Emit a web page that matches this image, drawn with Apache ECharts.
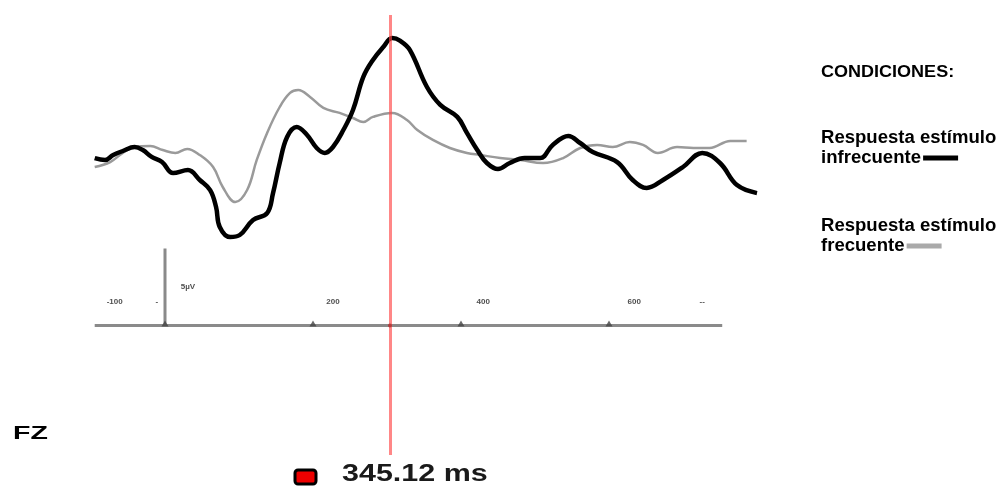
<!DOCTYPE html>
<html>
<head>
<meta charset="utf-8">
<script src="https://cdn.jsdelivr.net/npm/echarts@6/dist/echarts.min.js"></script>
<style>
  html, body { margin: 0; padding: 0; background: #fff; }
  #chart { width: 999px; height: 486px; }
</style>
</head>
<body>
<div id="chart"></div>
<script>
// ERP en FZ: tiempo (ms) contra amplitud (uV)
var infrecTime = [-95,-81,-70,-57,-41,-30,-18,-4,11,31,47,61,69,74,88,101,119,138,146,155,165,178,192,205,216,227,241,254,268,281,295,307,318,331,354,372,395,408,422,435,450,466,486,507,524,545,561,578,611,632,651,673,700,726,750,773,800];
var infrecAmp = [0.06,-0.06,0.25,0.5,0.75,0.56,0.13,-0.19,-0.88,-0.69,-1.31,-1.94,-3.0,-4.25,-4.88,-4.75,-3.81,-3.38,-2.13,-0.25,1.38,2.0,1.5,0.69,0.38,0.75,1.81,3.06,5.13,6.19,7.0,7.56,7.38,6.81,4.5,3.38,2.63,1.63,0.56,-0.25,-0.63,-0.25,0.06,0.06,0.88,1.44,1.0,0.44,-0.19,-1.31,-1.81,-1.31,-0.5,0.38,-0.25,-1.63,-2.13];

var frecTime = [-95,-74,-57,-41,-20,-3,14,30,47,65,78,95,111,124,138,155,169,180,196,214,236,254,268,281,307,327,341,362,385,408,426,453,480,511,538,561,584,605,628,646,666,692,714,736,764,786];
var frecAmp = [-0.5,-0.19,0.38,0.75,0.81,0.56,0.38,0.63,0.25,-0.5,-1.75,-2.69,-1.94,-0.06,1.63,3.25,4.13,4.31,3.88,3.19,2.88,2.56,2.31,2.63,2.88,2.44,1.81,1.19,0.69,0.38,0.25,0.06,-0.06,-0.25,0.06,0.69,0.88,0.75,1.06,0.88,0.38,0.75,0.69,0.69,1.13,1.13];

var tickMs = [0, 200, 400, 600];
var tickLabels = ['-100', '-', '5\u00b5V', '200', '400', '600', '--'];
var tickLabelMs = [-68, -11, 31, 227, 430, 634, 726];
var tickLabelUv = [-8.9, -8.9, -8.0, -8.9, -8.9, -8.9, -8.9];
var baselineUv = -10.4;
var axisSpanMs = [-95, 753];
var scaleBarUv = [-10.4, -5.6];
var cursorMs = 304;
var cursorLabel = '345.12 ms';
var channelName = 'FZ';
var legendTitle = 'CONDICIONES:';
var seriesNames = ['Respuesta estímulo infrecuente', 'Respuesta estímulo frecuente'];

function zip(a, b) {
    var out = [];
    for (var i = 0; i < a.length; i++) out.push([a[i], b[i]]);
    return out;
}

var chart = echarts.init(document.getElementById('chart'), null, { renderer: 'canvas' });

var labelData = [];
for (var i = 0; i < tickLabels.length; i++) {
    labelData.push({ value: [tickLabelMs[i], tickLabelUv[i]], name: tickLabels[i] });
}

var font = '"Liberation Sans", Arial, sans-serif';

// texto de leyenda con la muestra de linea detras del nombre
function legendText(y, lines, color) {
    return {
        type: 'text', x: 821, y: y, scaleX: 1.06, originX: 0,
        style: {
            text: lines[0] + '\n' + lines[1] + '{gap|}{bar|}', fill: '#000',
            fontSize: 17.5, fontWeight: 'bold', fontFamily: font, lineHeight: 20,
            rich: {
                gap: { width: 2, height: 5 },
                bar: { width: 33, height: 5, backgroundColor: color }
            }
        }
    };
}

var option = {
    backgroundColor: '#fff',
    animation: false,
    grid: { left: 91, right: 242, top: 15, bottom: 31 },
    xAxis: { type: 'value', min: -100, max: 800, show: false },
    yAxis: { type: 'value', min: -18.5, max: 9, show: false },
    series: [
        {
            // eje de tiempo
            type: 'line', silent: true, symbol: 'none', z: 1,
            data: [[axisSpanMs[0], baselineUv], [axisSpanMs[1], baselineUv]],
            lineStyle: { color: '#8a8a8a', width: 3 }
        },
        {
            // barra de escala
            type: 'line', silent: true, symbol: 'none', z: 1,
            data: [[0, scaleBarUv[0]], [0, scaleBarUv[1]]],
            lineStyle: { color: '#8a8a8a', width: 3 }
        },
        {
            type: 'scatter', silent: true, z: 2,
            symbol: 'triangle', symbolSize: [7, 6], symbolOffset: [0, -2],
            itemStyle: { color: '#444' },
            data: tickMs.map(function (t) { return [t, baselineUv]; })
        },
        {
            type: 'scatter', silent: true, z: 2,
            symbolSize: 1, itemStyle: { color: 'transparent' },
            label: {
                show: true, position: 'inside', formatter: '{b}',
                fontSize: 8, fontWeight: 'bold', color: '#222', fontFamily: font
            },
            data: labelData
        },
        {
            name: seriesNames[1],
            type: 'line', silent: true, symbol: 'none', smooth: 0.4, z: 3,
            data: zip(frecTime, frecAmp),
            lineStyle: { color: '#9a9a9a', width: 2.5 }
        },
        {
            name: seriesNames[0],
            type: 'line', silent: true, symbol: 'none', smooth: 0.4, z: 4,
            data: zip(infrecTime, infrecAmp),
            lineStyle: { color: '#000', width: 4.5 },
            markLine: {
                silent: true, symbol: 'none', z: 10,
                label: { show: false },
                lineStyle: { color: 'rgba(255,70,70,0.65)', width: 3, type: 'solid' },
                data: [{ xAxis: cursorMs }]
            }
        },
        {
            type: 'scatter', silent: true, z: 11,
            symbolSize: 4, itemStyle: { color: '#a33' },
            data: [[cursorMs, baselineUv]]
        }
    ],
    graphic: [
        {
            type: 'text', x: 821, y: 72, scaleX: 1.06, originX: 0,
            style: {
                text: legendTitle, fill: '#000', fontSize: 17, fontWeight: 'bold', fontFamily: font,
                textVerticalAlign: 'middle', verticalAlign: 'middle'
            }
        },
        legendText(128, ['Respuesta estímulo', 'infrecuente'], '#000'),
        legendText(216, ['Respuesta estímulo', 'frecuente'], '#aaa'),
        {
            type: 'text', x: 13, y: 434, scaleX: 1.5, originX: 0,
            style: {
                text: channelName, fill: '#000', fontSize: 19, fontWeight: 'bold', fontFamily: font,
                textVerticalAlign: 'middle', verticalAlign: 'middle'
            }
        },
        {
            type: 'rect',
            shape: { x: 295, y: 470, width: 21, height: 14, r: 3 },
            style: { fill: '#e00', stroke: '#000', lineWidth: 3 }
        },
        {
            type: 'text', x: 342, y: 474, scaleX: 1.27, originX: 0,
            style: {
                text: cursorLabel, fill: '#1a1a1a', fontSize: 24, fontWeight: 'bold', fontFamily: font,
                textVerticalAlign: 'middle', verticalAlign: 'middle'
            }
        }
    ]
};

chart.setOption(option);
</script>
</body>
</html>
